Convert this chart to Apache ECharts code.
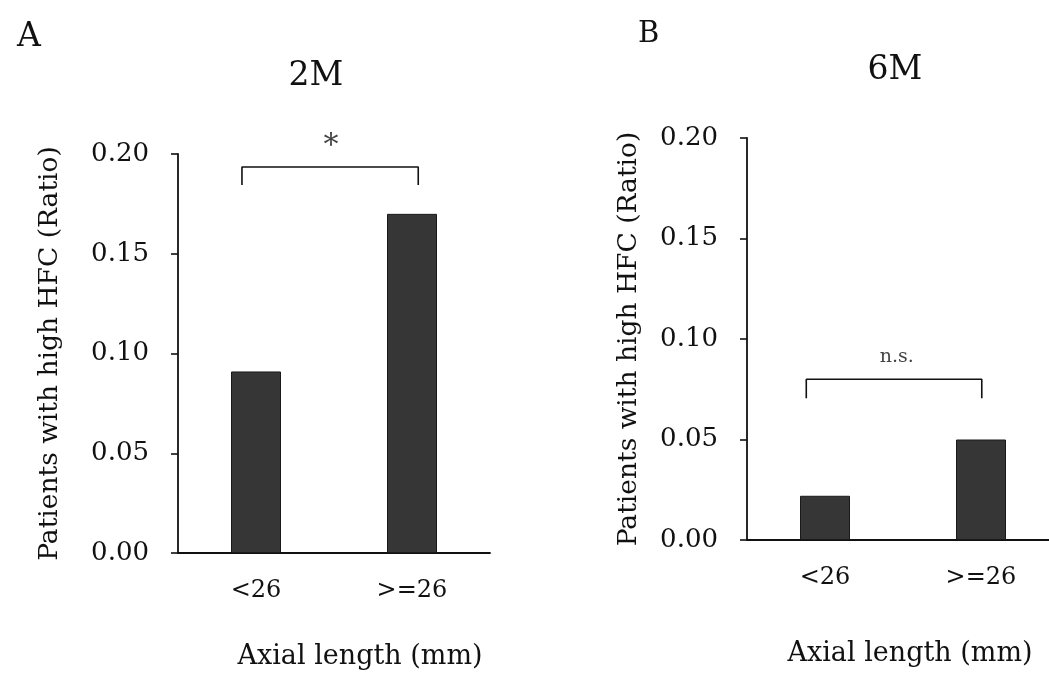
<!DOCTYPE html>
<html>
<head>
<meta charset="utf-8">
<script src="https://cdn.jsdelivr.net/npm/echarts@6/dist/echarts.min.js"></script>
<style>
html,body{margin:0;padding:0;background:#fff;overflow:hidden;width:1049px;height:675px;}
#chart{width:1070px;height:675px;}
</style>
</head>
<body>
<div id="chart"></div>
<script>
// ---- data ----
const categories = ['<26', '>=26'];
const ratio2M = [0.091, 0.170];
const ratio6M = [0.022, 0.050];
const yTicks = [0, 0.05, 0.10, 0.15, 0.20];
const panelLetters = ['A', 'B'];
const panelTitles = ['2M', '6M'];
const yName = 'Patients with high HFC (Ratio)';
const xName = 'Axial length (mm)';
// bracket: [x in category units, y value]
const bracket2M = [[-0.09, 0.1845], [-0.09, 0.1935], [1.04, 0.1935], [1.04, 0.1845]];
const bracket6M = [[-0.12, 0.0705], [-0.12, 0.080], [1.005, 0.080], [1.005, 0.0705]];
const sig2M = { x: 0.48, y: 0.2040, text: '*' };
const sig6M = { x: 0.46, y: 0.0912, text: 'n.s.' };

const FONT = 'DejaVu Serif';
const black = '#111';
const barColor = '#363636';

function yAxis(gi, nameGap) {
  return {
    type: 'value', gridIndex: gi, min: yTicks[0], max: yTicks[yTicks.length - 1], interval: 0.05,
    name: yName, nameLocation: 'middle', nameGap: nameGap,
    nameTextStyle: { fontFamily: FONT, fontSize: 26.5, color: black },
    axisLine: { show: true, onZero: false, lineStyle: { color: black, width: 1.8 } },
    axisTick: { show: true, inside: false, length: 7, lineStyle: { color: black, width: 1.6 } },
    axisLabel: { margin: 29, fontFamily: FONT, fontSize: 26, color: black, formatter: v => v.toFixed(2) },
    splitLine: { show: false }
  };
}
function xCat(gi, nameGap, pad) {
  return {
    type: 'category', gridIndex: gi, data: categories,
    name: xName, nameLocation: 'middle', nameGap: nameGap,
    nameTextStyle: { fontFamily: FONT, fontSize: 27, color: black, padding: pad },
    axisLine: { show: true, onZero: false, lineStyle: { color: black, width: 1.8 } },
    axisTick: { show: false },
    axisLabel: { margin: 26, fontFamily: FONT, fontSize: 24, color: black }
  };
}
function xVal(gi) {
  return { type: 'value', gridIndex: gi, min: -0.5, max: 1.5, show: false,
    axisLine: { onZero: false }, splitLine: { show: false } };
}

const chart = echarts.init(document.getElementById('chart'), null, { renderer: 'canvas' });
chart.setOption({
  backgroundColor: '#fff',
  animation: false,
  title: [
    { text: panelLetters[0], left: 12, top: 16, textStyle: { fontFamily: FONT, fontWeight: 'normal', fontSize: 33, color: black } },
    { text: panelLetters[1], left: 633, top: 15, textStyle: { fontFamily: FONT, fontWeight: 'normal', fontSize: 29, color: black } },
    { text: panelTitles[0], left: 311, top: 55, textAlign: 'center', textStyle: { fontFamily: FONT, fontWeight: 'normal', fontSize: 33, color: black } },
    { text: panelTitles[1], left: 890, top: 49, textAlign: 'center', textStyle: { fontFamily: FONT, fontWeight: 'normal', fontSize: 33, color: black } }
  ],
  grid: [
    { left: 178, top: 154, width: 312, height: 401 },
    { left: 747, top: 138, width: 312, height: 402 }
  ],
  xAxis: [xCat(0, 90, [0, 0, 0, 52]), xCat(1, 100, [0, 0, 0, 14]), xVal(0), xVal(1)],
  yAxis: [yAxis(0, 114), yAxis(1, 104)],
  series: [
    { type: 'bar', xAxisIndex: 0, yAxisIndex: 0, data: ratio2M, barWidth: 50,
      itemStyle: { color: barColor, borderColor: '#1a1a1a', borderWidth: 1 } },
    { type: 'bar', xAxisIndex: 1, yAxisIndex: 1, data: ratio6M, barWidth: 50,
      itemStyle: { color: barColor, borderColor: '#1a1a1a', borderWidth: 1 } },
    { type: 'line', xAxisIndex: 2, yAxisIndex: 0, data: bracket2M, symbol: 'none', clip: false,
      lineStyle: { color: black, width: 1.6 } },
    { type: 'line', xAxisIndex: 3, yAxisIndex: 1, data: bracket6M, symbol: 'none', clip: false,
      lineStyle: { color: black, width: 1.6 } },
    { type: 'scatter', xAxisIndex: 2, yAxisIndex: 0, clip: false, symbolSize: 0, silent: true,
      data: [[sig2M.x, sig2M.y]],
      label: { show: true, position: 'inside', formatter: sig2M.text, fontFamily: FONT, fontSize: 30, color: black } },
    { type: 'scatter', xAxisIndex: 3, yAxisIndex: 1, clip: false, symbolSize: 0, silent: true,
      data: [[sig6M.x, sig6M.y]],
      label: { show: true, position: 'inside', formatter: sig6M.text, fontFamily: FONT, fontSize: 19, color: black } }
  ]
});
</script>
</body>
</html>
